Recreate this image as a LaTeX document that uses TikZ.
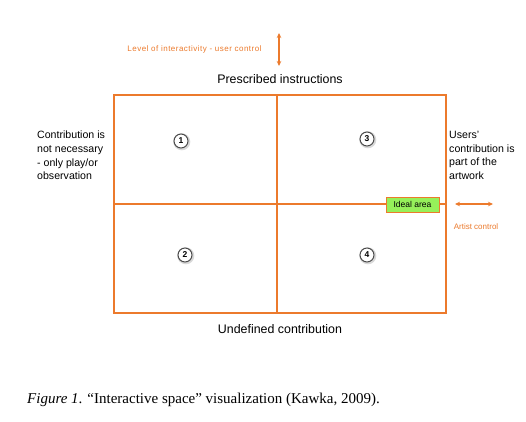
\documentclass[tikz,border=0pt]{standalone}
\usepackage{fontspec}
\setmainfont{Liberation Sans}
\newfontfamily\capfont{Liberation Serif}
\usetikzlibrary{arrows.meta}
\definecolor{orng}{RGB}{236,122,44}
\definecolor{idealgreen}{RGB}{150,240,90}
\tikzset{
  frame/.style={draw=orng, line width=2.2pt},
  num/.style={circle, draw=black!70, line width=1pt, fill=white, inner sep=0pt, minimum size=14pt, font=\fontsize{8.5}{8.5}\selectfont\bfseries},
  shadow/.style={circle, fill=black!15, minimum size=17pt, inner sep=0pt},
  lbl/.style={font=\fontsize{12.4}{14}\selectfont},
  side/.style={font=\fontsize{10.6}{13.6}\selectfont, align=left, anchor=north west, inner sep=0pt},
  small/.style={text=orng, font=\fontsize{8}{9}\selectfont},
  dblarrow/.style={draw=orng, line width=1.3pt, {Stealth[length=5pt,width=4.5pt]}-{Stealth[length=5pt,width=4.5pt]}},
}
\begin{document}
\begin{tikzpicture}[x=1pt,y=-1pt]
\useasboundingbox[fill=white] (0,0) rectangle (526,421);
% frame
\draw[frame] (114,95) rectangle (446,313);
\draw[frame] (277,95) -- (277,313);
\draw[frame] (114,204) -- (446,204);
% top arrow
\coordinate (ua) at (279,33);
\coordinate (ub) at (279,66);
\draw[dblarrow] (ua) -- (ub);
\node[small, font=\addfontfeature{LetterSpace=6}\fontsize{8}{9}\selectfont] (lvl) at (194.5,49) {Level of interactivity - user control};
\node[lbl] (presc) at (280,79) {Prescribed instructions};
\node[lbl] (undef) at (280,329) {Undefined contribution};
% side texts
\node[side] (left) at (37,131) {Contribution is\\not necessary\\- only play/or\\observation};
\node[side] (right) at (449,131) {Users'\\contribution is\\part of the\\artwork};
% ideal area
\node[draw=orng, line width=1pt, fill=idealgreen, minimum width=53pt, minimum height=15pt, inner sep=0pt, font=\fontsize{8.5}{9}\selectfont] (ideal) at (412.5,204.5) {Ideal area};
% artist control
\coordinate (aa) at (455,204);
\coordinate (ab) at (493,204);
\draw[dblarrow] (aa) -- (ab);
\node[small] (artist) at (476,227) {Artist control};
% numbers
\foreach \n/\x/\y in {1/181/141, 2/185/255, 3/367/139, 4/367/255}{
  \node[shadow] at (\x+0.8,\y+0.8) {};
  \node[num] (c\n) at (\x,\y) {\n};
}
% caption
\node[anchor=west, inner sep=0pt, font=\capfont\fontsize{15}{17}\selectfont] (cap) at (27,400) {\textit{Figure 1}. “Interactive space” visualization (Kawka, 2009).};
\end{tikzpicture}
\end{document}
